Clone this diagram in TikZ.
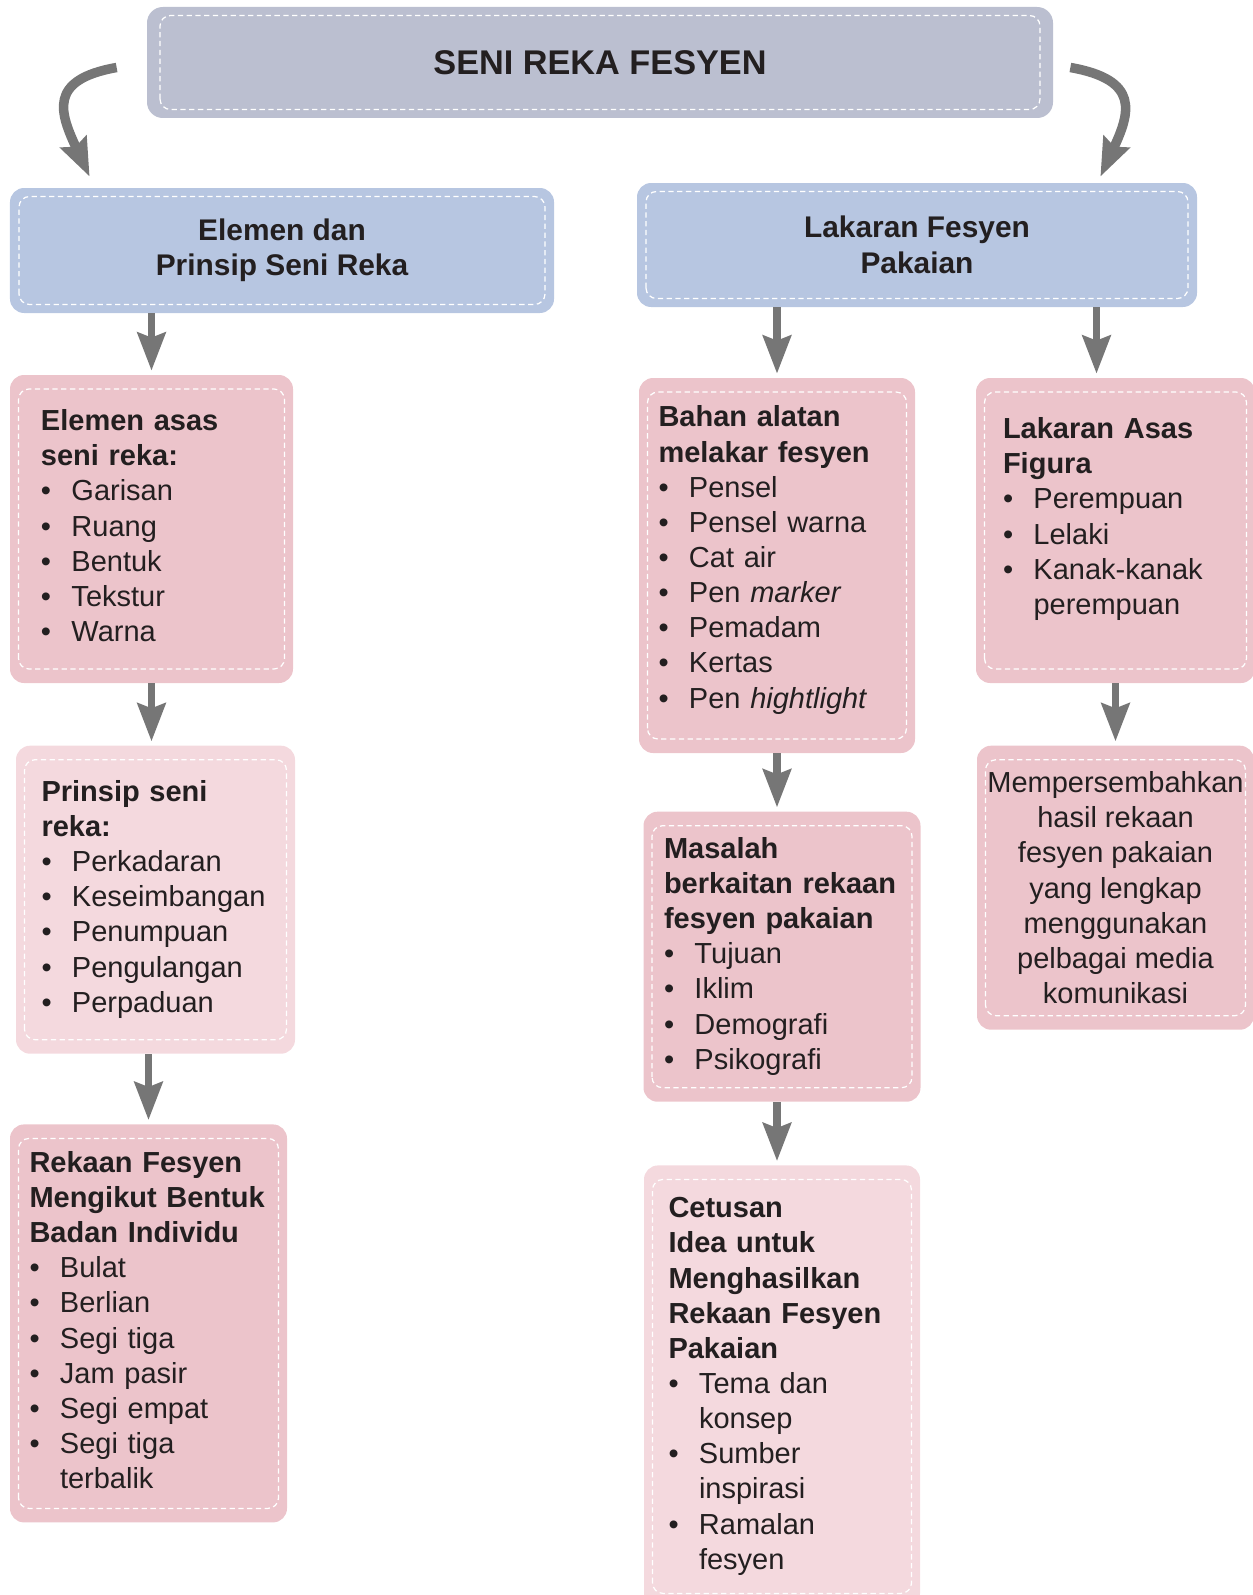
\documentclass[tikz,border=0pt]{standalone}
\usepackage{fontspec}
\setmainfont{Liberation Sans}
\usetikzlibrary{arrows.meta,positioning}
\definecolor{ungu}{HTML}{BBBFD0}
\definecolor{biru}{HTML}{B7C6E1}
\definecolor{merah}{HTML}{ECC4CB}
\definecolor{merahmuda}{HTML}{F4D9DE}
\definecolor{kelabu}{HTML}{767676}
\definecolor{hitam}{HTML}{231F20}
\newcommand{\tajuk}[1]{\multicolumn{2}{@{}l@{}}{\bfseries #1}}
\newenvironment{senarai}{\begin{tabular}{@{}p{0.61cm}@{}l@{}}}{\end{tabular}}

\begin{document}
\begin{tikzpicture}[
  garis/.style 2 args={path picture={\draw[white, line width=0.7pt, dash pattern=on 3pt off 2pt, rounded corners=6pt]
      ([shift={(#1,#2)}]path picture bounding box.south west) rectangle
      ([shift={(-#1,-#2)}]path picture bounding box.north east);}},
  judul/.style={rectangle, rounded corners=9pt, fill=ungu, minimum width=18.12cm, minimum height=2.22cm,
                font=\fontsize{19.5pt}{24pt}\selectfont\bfseries, text=hitam, garis={0.26cm}{0.17cm}},
  utama/.style={rectangle, rounded corners=8pt, fill=biru, align=center,
                font=\fontsize{17pt}{20.2pt}\selectfont\bfseries, text=hitam, garis={0.18cm}{0.17cm}},
  isi/.style={rectangle, rounded corners=8pt, fill=merah, align=left,
              font=\fontsize{16.5pt}{20pt}\selectfont, text=hitam, garis={0.17cm}{0.28cm}},
  isimuda/.style={isi, fill=merahmuda},
  panah/.style={-{Stealth[length=0.76cm, width=0.56cm, inset=0.1cm]}, line width=0.15cm, draw=kelabu, shorten >=0.08cm},
  lengkung/.style={panah, line width=0.19cm, shorten >=0pt}
]
  \useasboundingbox (0,0) rectangle (25.06,-31.9);

  \node[judul] (seni) at (12.0,-1.25) {SENI REKA FESYEN};
  \node[utama, minimum width=10.88cm, minimum height=2.5cm] (elemen) at (5.64,-5.01) {Elemen dan\\Prinsip Seni Reka};
  \node[utama, minimum width=11.2cm, minimum height=2.48cm] (lakaran) at (18.34,-4.9) {Lakaran Fesyen\\Pakaian};

  % lajur kiri
  \node[isi, text width=4.42cm, inner xsep=0.62cm, minimum height=6.16cm] (asas) at (3.03,-10.58) {%
    \begin{senarai}
      \tajuk{Elemen asas}\\
      \tajuk{seni reka:}\\
      \textbullet & Garisan\\
      \textbullet & Ruang\\
      \textbullet & Bentuk\\
      \textbullet & Tekstur\\
      \textbullet & Warna
    \end{senarai}};
  \node[isimuda, below=1.24cm of asas, xshift=0.08cm, text width=4.56cm, inner xsep=0.51cm, minimum height=6.16cm] (prinsip) {%
    \begin{senarai}
      \tajuk{Prinsip seni}\\
      \tajuk{reka:}\\
      \textbullet & Perkadaran\\
      \textbullet & Keseimbangan\\
      \textbullet & Penumpuan\\
      \textbullet & Pengulangan\\
      \textbullet & Perpaduan
    \end{senarai}};
  \node[isi, below=1.4cm of prinsip, xshift=-0.14cm, text width=4.76cm, inner xsep=0.39cm, minimum height=7.96cm] (badan) {%
    \begin{senarai}
      \tajuk{Rekaan Fesyen}\\
      \tajuk{Mengikut Bentuk}\\
      \tajuk{Badan Individu}\\
      \textbullet & Bulat\\
      \textbullet & Berlian\\
      \textbullet & Segi tiga\\
      \textbullet & Jam pasir\\
      \textbullet & Segi empat\\
      \textbullet & Segi tiga\\
                  & terbalik
    \end{senarai}};

  % lajur tengah
  \node[isi, text width=4.74cm, inner xsep=0.39cm, minimum height=7.5cm] (bahan) at (15.54,-11.31) {%
    \begin{senarai}
      \tajuk{Bahan alatan}\\
      \tajuk{melakar fesyen}\\
      \textbullet & Pensel\\
      \textbullet & Pensel warna\\
      \textbullet & Cat air\\
      \textbullet & Pen \textit{marker}\\
      \textbullet & Pemadam\\
      \textbullet & Kertas\\
      \textbullet & Pen \textit{hightlight}\\[0.2cm]
    \end{senarai}};
  \node[isi, below=1.16cm of bahan, xshift=0.1cm, text width=4.72cm, inner xsep=0.41cm, minimum height=5.8cm] (masalah) {%
    \begin{senarai}
      \tajuk{Masalah}\\
      \tajuk{berkaitan rekaan}\\
      \tajuk{fesyen pakaian}\\
      \textbullet & Tujuan\\
      \textbullet & Iklim\\
      \textbullet & Demografi\\
      \textbullet & Psikografi
    \end{senarai}};
  \node[isimuda, below=1.26cm of masalah, text width=4.54cm, inner xsep=0.49cm, minimum height=8.84cm] (cetusan) {%
    \begin{senarai}
      \tajuk{Cetusan}\\
      \tajuk{Idea untuk}\\
      \tajuk{Menghasilkan}\\
      \tajuk{Rekaan Fesyen}\\
      \tajuk{Pakaian}\\
      \textbullet & Tema dan\\
                  & konsep\\
      \textbullet & Sumber\\
                  & inspirasi\\
      \textbullet & Ramalan\\
                  & fesyen
    \end{senarai}};

  % lajur kanan
  \node[isi, text width=4.5cm, inner xsep=0.54cm, minimum height=6.1cm] (figura) at (22.31,-10.61) {%
    \begin{senarai}
      \tajuk{Lakaran Asas}\\
      \tajuk{Figura}\\
      \textbullet & Perempuan\\
      \textbullet & Lelaki\\
      \textbullet & Kanak-kanak\\
                  & perempuan\\[0.44cm]
    \end{senarai}};
  \node[isi, below=1.24cm of figura, align=center, minimum width=5.54cm, minimum height=5.68cm] (persembah)
    {Mempersembahkan\\hasil rekaan\\fesyen pakaian\\yang lengkap\\menggunakan\\pelbagai media\\komunikasi};

  \coordinate (kaki) at ([xshift=-0.38cm]figura.north);

  \draw[lengkung] ([shift={(-0.6cm,-0.1cm)}]seni.west) to[out=190, in=115, looseness=1.6]
    ([shift={(1.6cm,0.22cm)}]elemen.north west);
  \draw[lengkung] ([shift={(0.34cm,-0.1cm)}]seni.east) to[out=-10, in=65, looseness=1.6]
    ([shift={(-1.94cm,0.12cm)}]lakaran.north east);
  \draw[panah] (asas |- elemen.south) -- (asas.north);
  \draw[panah] (asas.south) -- (asas.south |- prinsip.north);
  \draw[panah] (badan |- prinsip.south) -- (badan.north);
  \draw[panah] (bahan |- lakaran.south) -- (bahan.north);
  \draw[panah] (kaki |- lakaran.south) -- (kaki);
  \draw[panah] (bahan.south) -- (bahan.south |- masalah.north);
  \draw[panah] (bahan.south |- masalah.south) -- (bahan.south |- cetusan.north);
  \draw[panah] (figura) -- (persembah);
\end{tikzpicture}
\end{document}
